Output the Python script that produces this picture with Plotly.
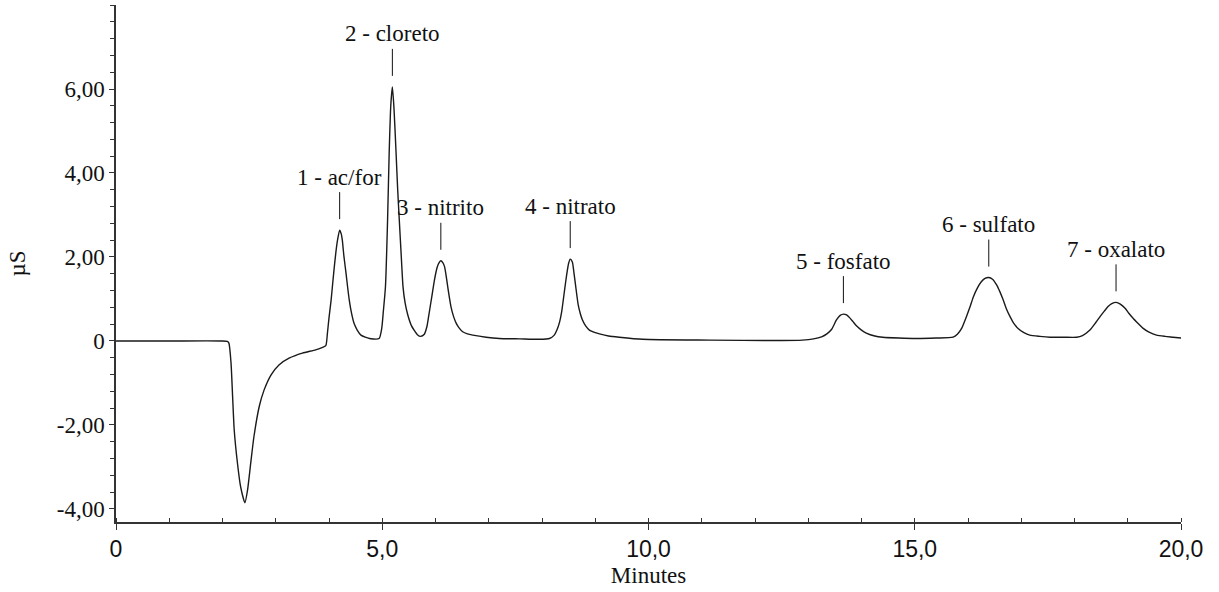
import plotly.graph_objects as go

# Chromatogram trace (time in minutes, signal in µS)
time_min = [0.0, 1.0, 1.97, 2.09, 2.12, 2.16, 2.19, 2.22, 2.28, 2.34, 2.42, 2.47, 2.53, 2.59,
            2.69, 2.78, 2.91, 3.06, 3.25, 3.50, 3.75, 3.88, 3.94,
            3.97, 4.00, 4.04, 4.07, 4.10, 4.13, 4.16, 4.20, 4.23, 4.25, 4.28, 4.32, 4.35,
            4.38, 4.42, 4.47, 4.53, 4.60, 4.68, 4.76, 4.94,
            4.99, 5.02, 5.06, 5.10, 5.13, 5.16, 5.19, 5.22, 5.26, 5.29, 5.32, 5.36, 5.39,
            5.43, 5.48, 5.55, 5.63, 5.66, 5.72,
            5.79, 5.84, 5.88, 5.93, 5.98, 6.03, 6.06, 6.10, 6.14, 6.17, 6.20, 6.23, 6.26,
            6.29, 6.34, 6.39, 6.45, 6.51, 6.60, 6.70, 6.95, 7.20, 7.58, 7.95,
            8.14, 8.23, 8.28, 8.33, 8.37, 8.40, 8.43, 8.46, 8.50, 8.53, 8.57, 8.60, 8.63,
            8.68, 8.72, 8.76, 8.82, 8.89, 9.00, 9.08, 9.25, 9.45, 9.89, 11.15, 12.40, 12.89,
            13.10, 13.25, 13.35, 13.44, 13.53, 13.60, 13.66, 13.72, 13.78, 13.84, 13.90,
            14.00, 14.09, 14.25, 14.40, 14.70, 15.03, 15.40, 15.72,
            15.80, 15.88, 15.97, 16.04, 16.10, 16.18, 16.25, 16.32, 16.39, 16.46, 16.54,
            16.60, 16.66, 16.72, 16.79, 16.86, 16.94, 17.05, 17.16, 17.35, 17.54, 17.80, 18.04,
            18.15, 18.29, 18.40, 18.48, 18.56, 18.63, 18.70, 18.78, 18.86, 18.95, 19.02,
            19.10, 19.20, 19.29, 19.40, 19.54, 19.70, 19.85, 20.0]
signal_uS = [0.0, 0.0, 0.0, -0.01, -0.05, -0.52, -1.33, -2.12, -2.90, -3.47, -3.85, -3.55, -2.91, -2.28,
             -1.56, -1.17, -0.81, -0.57, -0.41, -0.29, -0.21, -0.15, -0.11,
             0.18, 0.55, 0.98, 1.38, 1.77, 2.12, 2.40, 2.64, 2.55, 2.40, 2.02, 1.61, 1.28,
             0.98, 0.68, 0.42, 0.26, 0.14, 0.09, 0.06, 0.06,
             0.30, 0.70, 1.29, 2.88, 4.47, 5.60, 6.05, 5.55, 4.47, 3.60, 2.88, 1.95, 1.29,
             0.90, 0.62, 0.36, 0.20, 0.15, 0.11,
             0.16, 0.35, 0.66, 1.05, 1.45, 1.75, 1.85, 1.91, 1.86, 1.77, 1.55, 1.29, 1.04,
             0.82, 0.58, 0.42, 0.30, 0.22, 0.17, 0.14, 0.09, 0.06, 0.05, 0.04,
             0.06, 0.14, 0.26, 0.45, 0.70, 0.98, 1.27, 1.55, 1.85, 1.95, 1.88, 1.62, 1.33,
             0.86, 0.65, 0.50, 0.36, 0.26, 0.20, 0.17, 0.12, 0.09, 0.04, 0.02, 0.01, 0.02,
             0.05, 0.10, 0.17, 0.28, 0.50, 0.61, 0.64, 0.62, 0.55, 0.46, 0.37,
             0.26, 0.19, 0.12, 0.09, 0.07, 0.06, 0.07, 0.09,
             0.16, 0.30, 0.58, 0.82, 1.05, 1.27, 1.41, 1.49, 1.51, 1.47, 1.33,
             1.17, 0.98, 0.77, 0.58, 0.42, 0.30, 0.20, 0.14, 0.11, 0.09, 0.09, 0.09,
             0.13, 0.26, 0.44, 0.58, 0.71, 0.82, 0.89, 0.92, 0.88, 0.78, 0.66,
             0.54, 0.41, 0.30, 0.21, 0.14, 0.11, 0.09, 0.07]

# Peak labels
peak_labels = ["1 - ac/for", "2 - cloreto", "3 - nitrito", "4 - nitrato",
               "5 - fosfato", "6 - sulfato", "7 - oxalato"]
peak_time = [4.20, 5.19, 6.10, 8.53, 13.66, 16.39, 18.78]
peak_height = [2.64, 6.05, 1.91, 1.95, 0.64, 1.51, 0.92]

# Tick labels
x_tickvals = [0, 5, 10, 15, 20]
x_ticktext = ["0", "5,0", "10,0", "15,0", "20,0"]
y_tickvals = [-4, -2, 0, 2, 4, 6]
y_ticktext = ["-4,00", "-2,00", "0", "2,00", "4,00", "6,00"]

SERIF = "Liberation Serif, Times New Roman, serif"
SANS = "Liberation Sans, Arial, sans-serif"
AX = "#333333"

fig = go.Figure()
fig.add_trace(go.Scatter(
    x=time_min, y=signal_uS, mode="lines",
    line=dict(color="#1a1a1a", width=1.4, shape="spline", smoothing=0.6),
    hoverinfo="x+y", showlegend=False,
))

for lab, t, h in zip(peak_labels, peak_time, peak_height):
    fig.add_annotation(
        x=t, y=h, xref="x", yref="y", text=lab,
        showarrow=True, arrowhead=0, arrowwidth=1, arrowcolor="#111111",
        ax=0, ay=-53, standoff=11, borderpad=2,
        font=dict(family=SERIF, size=23, color="#111111"),
    )

fig.update_layout(
    width=1219, height=592,
    margin=dict(l=116, r=38, t=5, b=70),
    paper_bgcolor="white", plot_bgcolor="white",
    showlegend=False,
)
fig.update_xaxes(
    range=[0, 20], showgrid=False, zeroline=False,
    showline=True, linecolor=AX, linewidth=1.5,
    tickvals=x_tickvals, ticktext=x_ticktext,
    ticks="outside", ticklen=6, tickwidth=1.2, tickcolor=AX,
    minor=dict(dtick=1, ticks="inside", ticklen=4, tickwidth=1, tickcolor=AX, showgrid=False),
    tickfont=dict(family=SANS, size=23, color="#111111"),
    title=dict(text="Minutes", font=dict(family=SERIF, size=23, color="#111111"), standoff=6),
)
fig.update_yaxes(
    range=[-4.31, 8.0], showgrid=False, zeroline=False,
    showline=True, linecolor=AX, linewidth=1.5,
    tickvals=y_tickvals, ticktext=y_ticktext,
    ticks="outside", ticklen=5, tickwidth=1.2, tickcolor=AX,
    minor=dict(dtick=0.4, tick0=0, ticks="outside", ticklen=4, tickwidth=1, tickcolor=AX, showgrid=False),
    tickfont=dict(family=SERIF, size=23, color="#111111"),
    title=dict(text="µS", font=dict(family=SERIF, size=23, color="#111111"), standoff=25),
)

fig.write_html("out.html")
